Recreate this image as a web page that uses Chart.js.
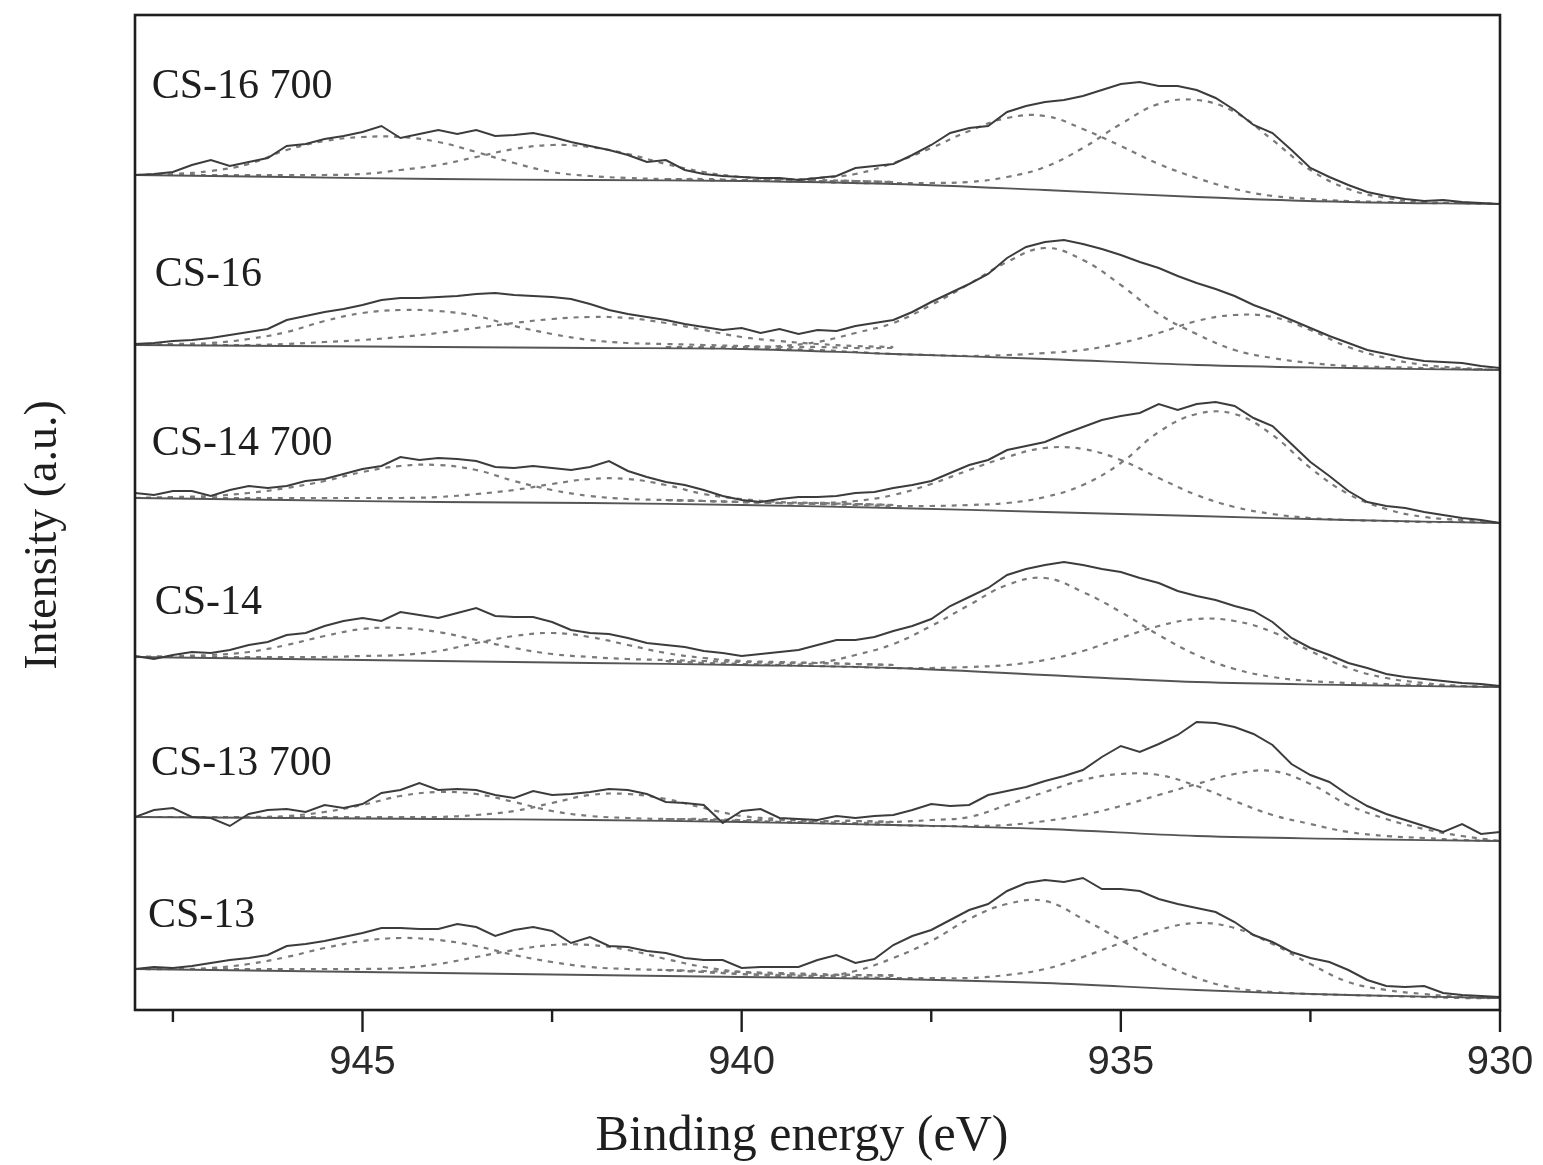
<!DOCTYPE html>
<html>
<head>
<meta charset="utf-8">
<script src="https://cdn.jsdelivr.net/npm/chart.js@4.4.1/dist/chart.umd.min.js"></script>
<style>
  html, body { margin: 0; padding: 0; background: #fff; }
  #wrap { width: 1543px; height: 1165px; }
</style>
</head>
<body>
<div id="wrap"><canvas id="xps"></canvas></div>
<script>
// Cu 2p3/2 XPS, stacked spectra (binding energy, reversed axis)
// ===============================================================

// energy grids (eV)
const energy = [948,947.75,947.5,947.25,947,946.75,946.5,946.25,946,945.75,945.5,945.25,945,944.75,944.5,944.25,944,943.75,943.5,943.25,943,942.75,942.5,942.25,942,941.75,941.5,941.25,941,940.75,940.5,940.25,940,939.75,939.5,939.25,939,938.75,938.5,938.25,938,937.75,937.5,937.25,937,936.75,936.5,936.25,936,935.75,935.5,935.25,935,934.75,934.5,934.25,934,933.75,933.5,933.25,933,932.75,932.5,932.25,932,931.75,931.5,931.25,931,930.75,930.5,930.25,930];
const satE = [948,947.5,947,946.5,946,945.5,945,944.5,944,943.5,943,942.5,942,941.5,941,940.5,940,939.5,939,938.5,938];
const mainE = [941,940.5,940,939.5,939,938.5,938,937.5,937,936.5,936,935.5,935,934.5,934,933.5,933,932.5,932,931.5,931,930.5,930];
const bgE = [948,946,944,942,940,938,936,934,932,930];

const sampleNames = ['CS-16 700', 'CS-16', 'CS-14 700', 'CS-14', 'CS-13 700', 'CS-13'];
const xTicks = [947.5, 945, 942.5, 940, 937.5, 935, 932.5, 930];

// CS-16 700
const exp16_700 = [835,836,838,845,850,844,848,852,864,866,871,874,878,884,872,876,880,876,880,874,875,877,873,868,864,860,855,848,850,840,836,834,833,832,832,830,832,834,842,844,846,855,865,877,882,884,898,904,908,910,914,920,926,928,924,924,920,912,900,885,877,860,842,833,825,818,814,811,809,810,808,807,806];
const sat1_16_700 = [835,836,839,846,860,869,873,873,868,858,847,838,834,832,831,831,830,830,829,829,828];
const sat2_16_700 = [835,835,835,835,835,835,836,840,845,853,861,865,863,856,846,838,833,831,830,829,828];
const mainA_16_700 = [831,830,830,830,832,836,847,862,879,892,894,881,864,846,832,821,814,811,809,808,807,807,806];
const mainB_16_700 = [831,830,830,829,828,827,827,827,828,833,843,862,886,906,910,898,870,840,821,812,808,807,806];
const bg16_700 = [835,833,831,830,829,826,820,813,808,806];

// CS-16
const exp16 = [666,667,669,670,672,675,678,681,690,694,698,701,705,710,712,712,713,714,716,717,715,714,713,711,706,700,696,693,690,686,683,680,682,677,681,676,680,679,684,687,690,698,708,717,726,736,752,763,768,770,766,761,755,748,742,734,727,721,714,705,698,690,682,674,667,660,656,652,649,648,647,644,642];
const sat1_16 = [665,666,667,671,678,689,697,700,699,694,684,676,670,667,666,665,664,663,663,662,662];
const sat2_16 = [665,665,665,665,666,668,670,673,677,682,687,691,693,692,687,680,673,669,666,664,663];
const mainA_16 = [663,663,663,664,668,677,687,705,726,748,762,750,725,696,676,660,652,647,644,643,642,641,640];
const mainB_16 = [663,662,662,661,660,658,656,655,654,655,657,660,667,677,689,695,693,680,663,652,645,642,640];
const bg16 = [665,664,663,662,661,656,651,645,642,640];

// CS-14 700
const exp14_700 = [517,515,519,519,514,520,524,522,524,529,531,536,541,544,553,550,552,551,549,543,542,544,542,540,543,549,539,533,528,525,520,514,510,508,511,513,513,514,517,518,522,525,529,537,545,550,560,564,568,576,583,590,594,597,606,600,606,608,604,592,584,566,548,534,519,508,504,502,498,495,492,490,487];
const sat1_14_700 = [512,513,514,517,522,529,538,544,545,540,529,520,514,511,510,509,508,507,506,506,505];
const sat2_14_700 = [512,512,512,512,512,512,512,512,513,516,520,526,531,531,525,516,511,508,507,506,505];
const mainA_14_700 = [510,509,508,507,507,509,515,526,540,553,562,561,550,532,515,503,496,492,490,489,488,488,487];
const mainB_14_700 = [510,509,508,507,506,505,504,504,505,507,513,525,547,578,596,596,575,542,516,501,493,490,487];
const bg14_700 = [512,510,508,507,505,502,498,494,490,487];

// CS-14
const exp14 = [354,351,355,358,357,360,365,368,375,377,384,389,392,389,398,395,392,397,402,394,393,393,388,380,377,376,372,367,365,363,359,357,354,356,358,360,365,370,370,373,379,384,391,404,413,422,435,441,445,448,445,441,438,432,427,419,414,410,404,399,388,372,362,355,347,342,336,333,331,329,327,326,324];
const sat1_14 = [353,354,355,358,365,374,381,382,378,370,362,356,353,351,350,349,348,347,347,346,345];
const sat2_14 = [353,353,353,353,353,353,354,355,359,367,374,377,373,365,357,352,349,348,347,346,345];
const mainA_14 = [349,347,346,345,347,355,366,384,405,425,432,418,398,375,355,341,333,329,327,326,325,324,323];
const mainB_14 = [349,347,346,345,344,343,342,342,343,345,350,359,372,384,391,389,378,359,342,332,327,324,323];
const bg14 = [353,351,349,347,345,342,335,328,325,323];

// CS-13 700
const exp13_700 = [193,200,202,193,192,184,196,200,201,198,205,202,206,217,220,227,220,221,220,215,212,219,215,216,218,221,220,216,208,207,205,187,199,201,192,191,190,194,192,194,195,200,206,204,205,215,219,223,229,234,240,253,264,258,266,275,288,287,283,276,265,246,235,228,215,204,196,190,184,178,186,176,178];
const sat1_13_700 = [193,193,193,193,194,198,205,214,218,216,208,199,194,192,191,191,190,190,189,189,188];
const sat2_13_700 = [193,193,193,193,193,193,193,193,193,195,199,207,215,216,211,202,194,191,189,189,188];
const mainA_13_700 = [191,190,189,188,188,187,188,190,193,205,218,230,236,235,224,209,195,186,178,174,172,170,169];
const mainB_13_700 = [191,190,189,188,187,186,185,184,184,185,189,195,204,215,226,236,239,226,205,191,181,174,169];
const bg13_700 = [193,192,191,190,188,185,181,174,171,169];

// CS-13
const exp13 = [41,43,42,44,47,50,52,55,64,66,69,73,77,82,82,81,81,86,83,74,80,83,79,67,73,64,63,59,57,52,50,50,42,43,43,43,50,55,47,51,65,74,80,90,100,106,119,127,130,128,132,121,121,119,111,106,102,98,88,75,68,58,52,48,40,30,24,23,24,17,15,14,13];
const sat1_13 = [41,41,42,46,53,62,69,72,70,64,55,48,43,41,40,39,38,37,36,35,35];
const sat2_13 = [41,41,41,41,41,41,41,42,46,53,60,65,65,60,51,43,38,36,35,35,34];
const mainA_13 = [40,38,36,34,33,39,52,69,91,106,109,91,70,48,32,22,18,16,15,14,13,12,12];
const mainB_13 = [40,38,36,35,34,33,32,32,32,35,41,53,67,80,87,82,66,46,28,20,16,13,12];
const bg13 = [41,39,37,35,33,31,27,20,15,12];

// label anchors (data coords) for the sample names
const labelAt = [[947.78, 912], [947.74, 724], [947.78, 555], [947.74, 396], [947.79, 235], [947.83, 83]];

const spectra = [
  { exp: exp16_700, comps: [sat1_16_700, sat2_16_700], mains: [mainA_16_700, mainB_16_700], bg: bg16_700 },
  { exp: exp16, comps: [sat1_16, sat2_16], mains: [mainA_16, mainB_16], bg: bg16 },
  { exp: exp14_700, comps: [sat1_14_700, sat2_14_700], mains: [mainA_14_700, mainB_14_700], bg: bg14_700 },
  { exp: exp14, comps: [sat1_14, sat2_14], mains: [mainA_14, mainB_14], bg: bg14 },
  { exp: exp13_700, comps: [sat1_13_700, sat2_13_700], mains: [mainA_13_700, mainB_13_700], bg: bg13_700 },
  { exp: exp13, comps: [sat1_13, sat2_13], mains: [mainA_13, mainB_13], bg: bg13 }
];

const pts = (xs, ys) => xs.map((x, i) => ({ x: x, y: ys[i] }));

let datasets = [];
spectra.forEach(s => {
  datasets.push({ data: pts(energy, s.exp), borderColor: '#3c3c3c', borderWidth: 2, tension: 0, order: 0 });
  datasets.push({ data: pts(bgE, s.bg), borderColor: '#555', borderWidth: 1.8, tension: 0.4, order: 1 });
  s.comps.forEach(c => datasets.push({ data: pts(satE, c), borderColor: '#7a7a7a', borderWidth: 2.2, borderDash: [5, 6], tension: 0.4, order: 2 }));
  s.mains.forEach(c => datasets.push({ data: pts(mainE, c), borderColor: '#7a7a7a', borderWidth: 2.2, borderDash: [5, 6], tension: 0.4, order: 2 }));
});

// frame, tick marks, titles and sample names
const decor = {
  id: 'decor',
  afterDraw(chart) {
    const { ctx, chartArea: a, scales } = chart;
    const xs = scales.x, ys = scales.y;
    ctx.save();
    ctx.strokeStyle = '#1e1e1e';
    ctx.lineWidth = 2.6;
    ctx.strokeRect(a.left, a.top, a.right - a.left, a.bottom - a.top);

    ctx.lineWidth = 2.4;
    xTicks.forEach(v => {
      const px = xs.getPixelForValue(v);
      const len = (v % 5 === 0) ? 22 : 12;
      ctx.beginPath();
      ctx.moveTo(px, a.bottom);
      ctx.lineTo(px, a.bottom + len);
      ctx.stroke();
    });

    ctx.fillStyle = '#1e1e1e';
    ctx.font = '42px "Liberation Serif", "Times New Roman", serif';
    ctx.textAlign = 'left';
    ctx.textBaseline = 'alphabetic';
    sampleNames.forEach((n, i) => {
      ctx.fillText(n, xs.getPixelForValue(labelAt[i][0]), ys.getPixelForValue(labelAt[i][1]));
    });

    ctx.font = '50px "Liberation Serif", "Times New Roman", serif';
    ctx.textAlign = 'center';
    ctx.fillText('Binding energy (eV)', 802, 1150);

    ctx.translate(56, 535);
    ctx.rotate(-Math.PI / 2);
    ctx.font = '46px "Liberation Serif", "Times New Roman", serif';
    ctx.fillText('Intensity (a.u.)', 0, 0);
    ctx.restore();
  }
};

new Chart(document.getElementById('xps'), {
  type: 'line',
  data: { datasets: datasets },
  options: {
    responsive: true,
    maintainAspectRatio: false,
    animation: false,
    events: [],
    layout: { padding: { left: 135, right: 43, top: 15, bottom: 0 } },
    elements: { point: { radius: 0 } },
    plugins: { legend: { display: false }, tooltip: { enabled: false } },
    scales: {
      x: {
        type: 'linear',
        reverse: true,
        min: 930,
        max: 948,
        afterBuildTicks: sc => { sc.ticks = xTicks.map(v => ({ value: v })); },
        afterFit: sc => { sc.height = 155; sc.paddingLeft = 0; sc.paddingRight = 0; },
        border: { display: false },
        grid: { display: false, drawTicks: false },
        ticks: {
          autoSkip: false,
          maxRotation: 0,
          padding: 29,
          color: '#2a2a2a',
          font: { family: '"Liberation Sans", Arial, sans-serif', size: 40 },
          callback: v => (v % 5 === 0 ? String(v) : '')
        }
      },
      y: { display: false, min: 0, max: 995 }
    }
  },
  plugins: [decor]
});
</script>
</body>
</html>
